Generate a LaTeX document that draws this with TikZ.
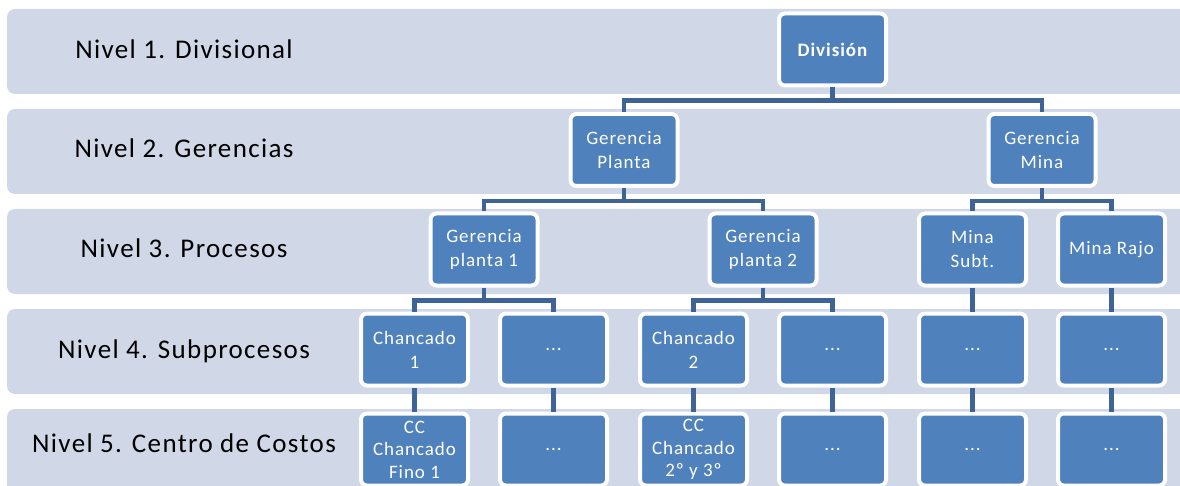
\documentclass[tikz,border=0pt]{standalone}
\usepackage{fontspec}
\setmainfont{Carlito}
\newfontfamily\spacedfont[LetterSpace=5]{Carlito}
\definecolor{bandfill}{RGB}{208,215,230}
\definecolor{boxblue}{RGB}{79,129,189}
\definecolor{linkblue}{RGB}{62,99,150}
\tikzset{
  band/.style={fill=bandfill, rounded corners=8pt},
  lvl/.style={anchor=base, text=black, inner sep=0pt,
    font=\spacedfont\fontsize{27}{32}\selectfont},
  unit/.style={fill=boxblue, draw=white, line width=4pt, rounded corners=6pt,
    minimum width=107pt, minimum height=72pt, inner sep=0pt, align=center,
    text=white, font=\spacedfont\fontsize{19}{24}\selectfont},
  ccunit/.style={unit, font=\spacedfont\fontsize{19}{22.5}\selectfont},
  link/.style={draw=linkblue, line width=4.5pt},
}
\begin{document}
\begin{tikzpicture}[x=1pt, y=-1pt]
\useasboundingbox (0,0) rectangle (1180,486);
\clip (0,0) rectangle (1180,486);

% level bands
\foreach \k in {0,...,4}
  \path[band] (7,{9+100*\k}) rectangle (1200,{94+100*\k});

% level labels
\node[lvl] (l1) at (184,59)  {Nivel 1. Divisional};
\node[lvl] (l2) at (184,158) {Nivel 2. Gerencias};
\node[lvl] (l3) at (184,258) {Nivel 3. Procesos};
\node[lvl] (l4) at (184,358) {Nivel 4. Subprocesos};
\node[lvl] (l5) at (184,452) {Nivel 5. Centro de Costos};

% level 1
\node[unit, font=\spacedfont\bfseries\fontsize{19}{24}\selectfont] (div) at (832.5,49.5) {División};
% level 2
\node[unit] (gp) at (624,150) {Gerencia\\Planta};
\node[unit] (gm) at (1042,150) {Gerencia\\Mina};
% level 3
\node[unit] (gp1) at (484,249.5) {Gerencia\\planta 1};
\node[unit] (gp2) at (763,249.5) {Gerencia\\planta 2};
\node[unit] (ms) at (972.5,249.5) {Mina\\Subt.};
\node[unit] (mr) at (1111.5,249.5) {Mina Rajo};
% level 4
\node[unit] (s1) at (414.5,349.5) {Chancado\\1};
\node[unit] (s2) at (553.5,349.5) {...};
\node[unit] (s3) at (693.5,349.5) {Chancado\\2};
\node[unit] (s4) at (832.5,349.5) {...};
\node[unit] (s5) at (972.5,349.5) {...};
\node[unit] (s6) at (1111.5,349.5) {...};
% level 5
\node[ccunit] (c1) at (414.5,449.5) {CC\\Chancado\\Fino 1};
\node[ccunit] (c2) at (553.5,449.5) {...};
\node[ccunit] (c3) at (693.5,449.5) {CC\\Chancado\\2º y 3º};
\node[ccunit] (c4) at (832.5,449.5) {...};
\node[ccunit] (c5) at (972.5,449.5) {...};
\node[ccunit] (c6) at (1111.5,449.5) {...};

% connectors
\foreach \p/\c in {div/gp, div/gm, gp/gp1, gp/gp2, gm/ms, gm/mr,
                   gp1/s1, gp1/s2, gp2/s3, gp2/s4}
  \draw[link] (\p.south) -- ++(0,13) -| (\c.north);
\foreach \p/\c in {ms/s5, mr/s6, s1/c1, s2/c2, s3/c3, s4/c4, s5/c5, s6/c6}
  \draw[link] (\p.south) -- (\c.north);
\end{tikzpicture}
\end{document}
